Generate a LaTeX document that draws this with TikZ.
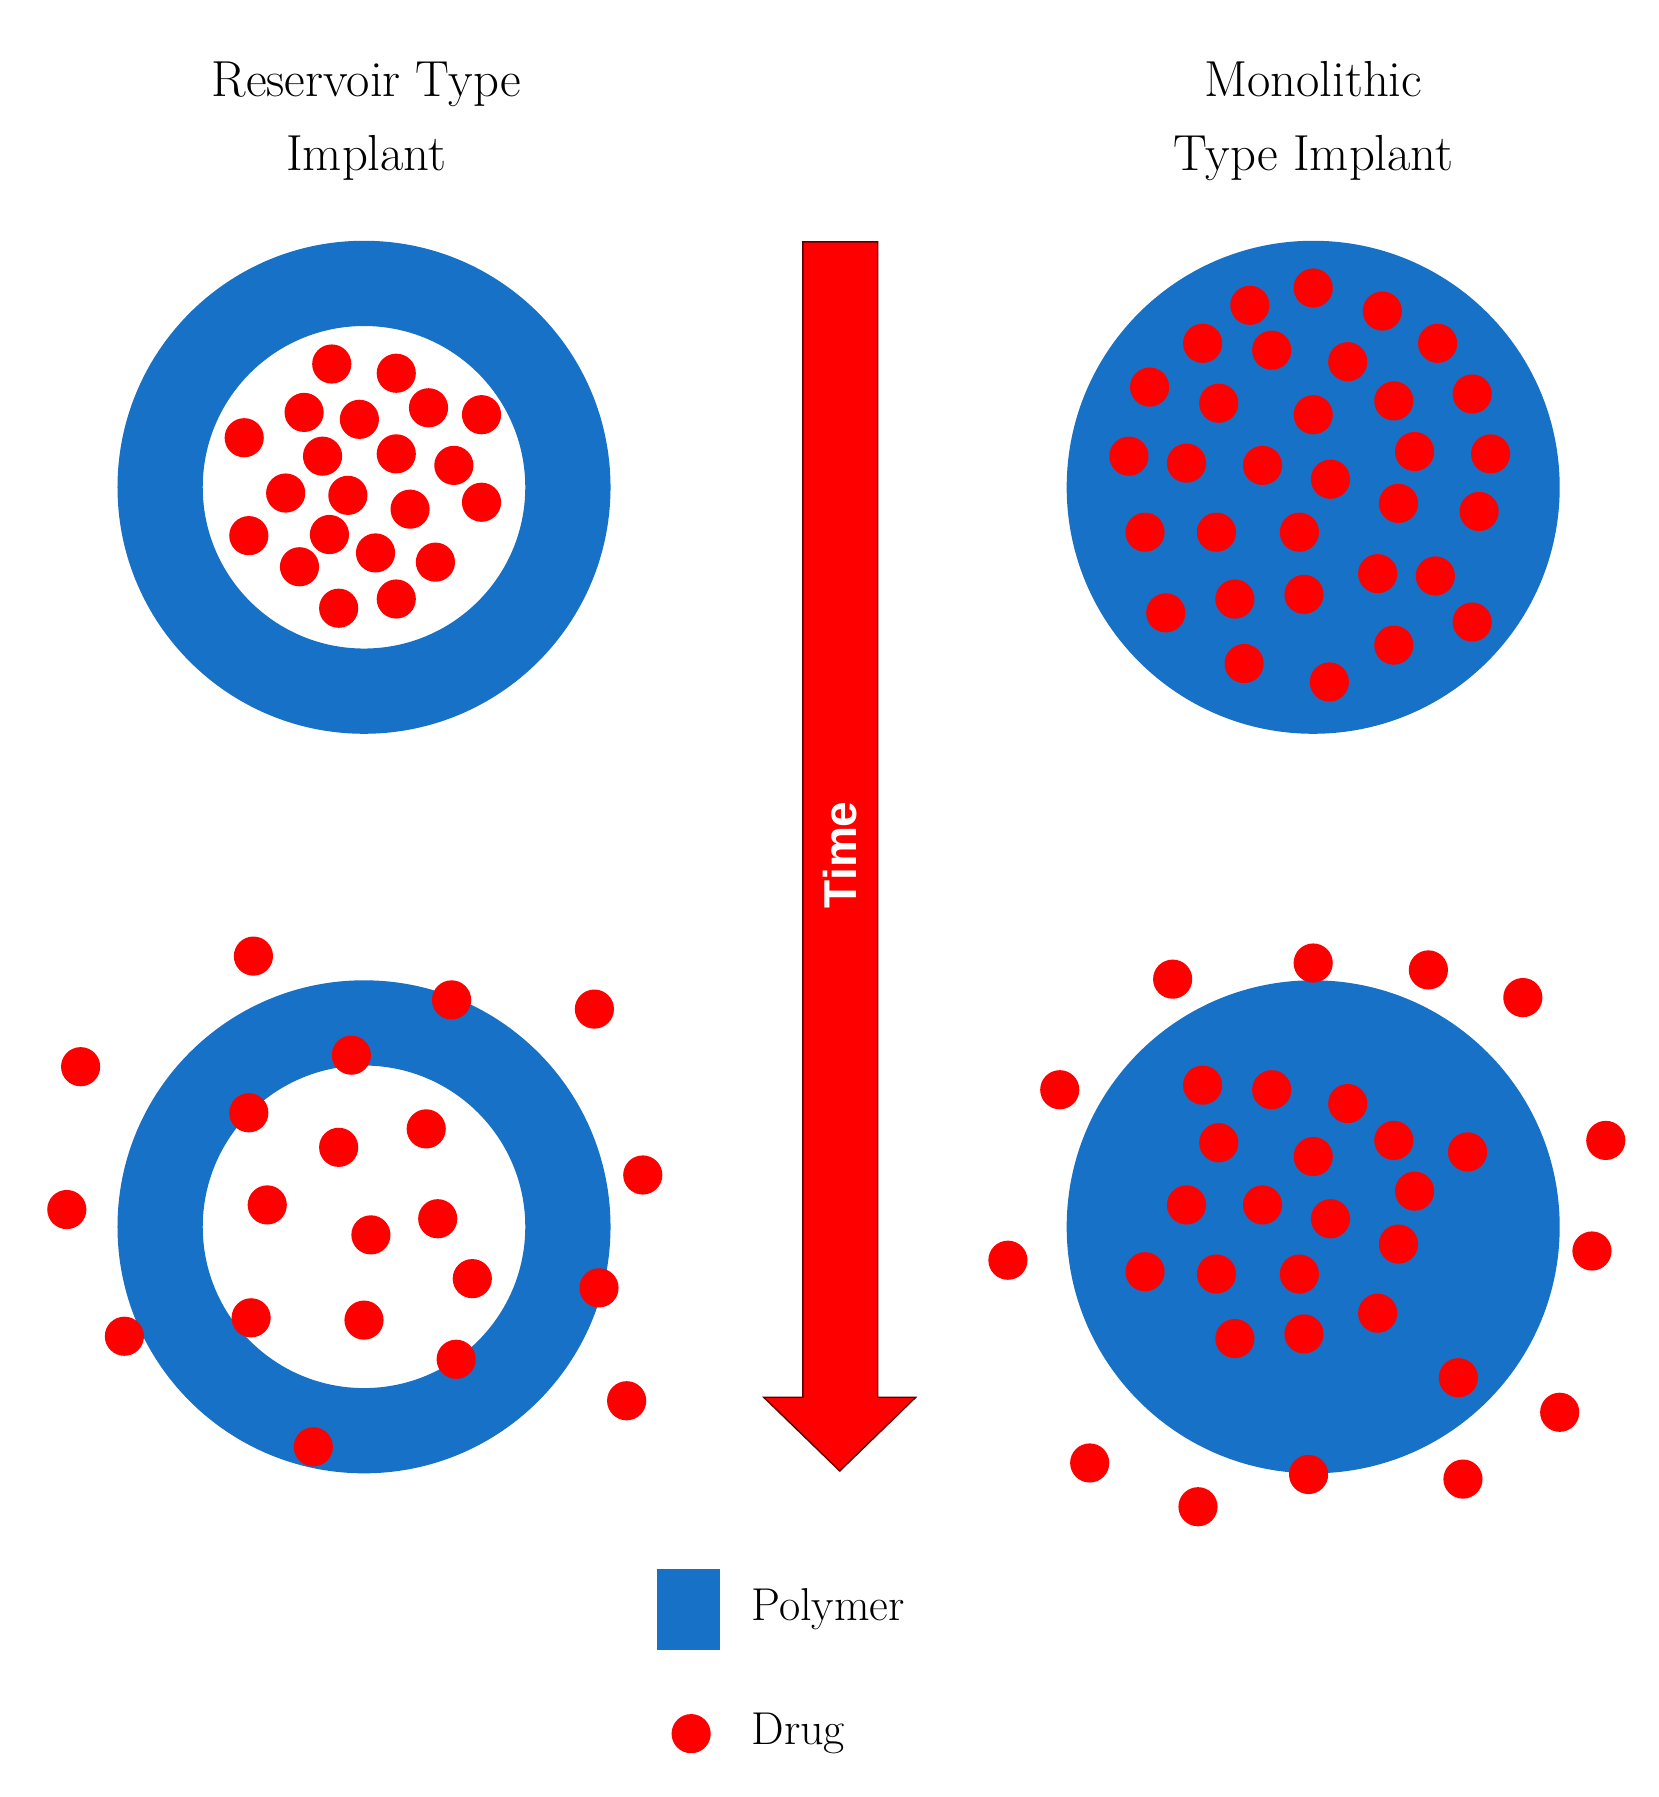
\documentclass[tikz,border=0pt]{standalone}
\usepackage{fontspec}
\newfontfamily\timefont{Liberation Sans}
\definecolor{polyblue}{RGB}{22,113,199}
\definecolor{drugred}{RGB}{255,0,0}
\tikzset{
	polymer/.style={fill=polyblue, draw=none},
	drug/.style={circle, fill=drugred, draw=none, minimum size=17pt, inner sep=0pt},
	title/.style={font=\fontsize{22}{32}\selectfont, align=center},
	legend/.style={font=\fontsize{20}{24}\selectfont, anchor=west}}
\tikzset{every picture/.style={line width=0.75pt}}

\begin{document}
\begin{tikzpicture}[x=0.5pt,y=0.5pt,yscale=-1,xscale=1]
	\useasboundingbox (0,0) rectangle (1440,1560);

	% Titles
	\node[title] (restitle) at (318,105) {Reservoir Type\\Implant};
	\node[title] (montitle) at (1140,105) {Monolithic\\Type Implant};

	% Reservoir implants (ring)
	\fill[polymer, even odd rule] (316,423) circle (214) (316,423) circle (140);
	\fill[polymer, even odd rule] (316,1065) circle (214) (316,1065) circle (140);
	% Monolithic implants (disc)
	\fill[polymer] (1140,423) circle (214);
	\fill[polymer] (1140,1065) circle (214);

	% Time arrow
	\draw[draw={rgb,255:red,90;green,0;blue,0}, line width=0.6pt, fill=drugred]
		(697,210) -- (762,210) -- (762,1213) -- (795,1213) -- (729,1277)
		-- (663,1213) -- (697,1213) -- cycle;
	\node[rotate=90, text=white, font=\timefont\bfseries\fontsize{20}{24}\selectfont] (time) at (729,742) {Time};

	% Drug particles
	\foreach \x/\y in {288/316,344/324,264/358,312/364,372/354,418/360,212/380,280/396,344/394,394/404,248/428,302/430,356/442,418/436,216/465,286/464,326/480,378/488,260/492,294/528,344/520}
		\node[drug] at (\x,\y) {};
	\foreach \x/\y in {1085/265,1140/250,1200/270,1248/298,1044/298,1104/304,1170/314,998/336,1058/350,1140/360,1210/348,1278/342,980/396,1030/402,1096/404,1155/416,1228/392,1294/394,994/462,1056/462,1128/462,1214/437,1284/444,1012/532,1072/520,1132/516,1196/498,1246/500,1278/540,1080/576,1154/592,1210/560}
		\node[drug] at (\x,\y) {};
	\foreach \x/\y in {220/830,392/868,516/876,70/926,305/916,216/966,294/996,370/980,558/1020,58/1050,232/1046,322/1072,380/1058,410/1110,520/1118,218/1144,316/1146,108/1160,396/1180,544/1216,272/1256}
		\node[drug] at (\x,\y) {};
	\foreach \x/\y in {1140/836,1018/850,1240/842,1322/866,920/946,1044/942,1104/946,1170/958,1058/992,1140/1004,1210/990,1274/1000,1394/990,1030/1046,1096/1046,1155/1058,1228/1034,1382/1086,875/1094,994/1104,1056/1106,1128/1106,1214/1080,1072/1162,1132/1158,1196/1140,1266/1196,1354/1226,946/1270,1136/1280,1270/1284,1040/1308}
		\node[drug] at (\x,\y) {};

	% Legend
	\fill[polymer] (570,1362) rectangle (625,1432);
	\node[legend] (polylbl) at (645,1397) {Polymer};
	\node[drug] (drugkey) at (600,1505) {};
	\node[legend] (druglbl) at (645,1505) {Drug};
\end{tikzpicture}
\end{document}
